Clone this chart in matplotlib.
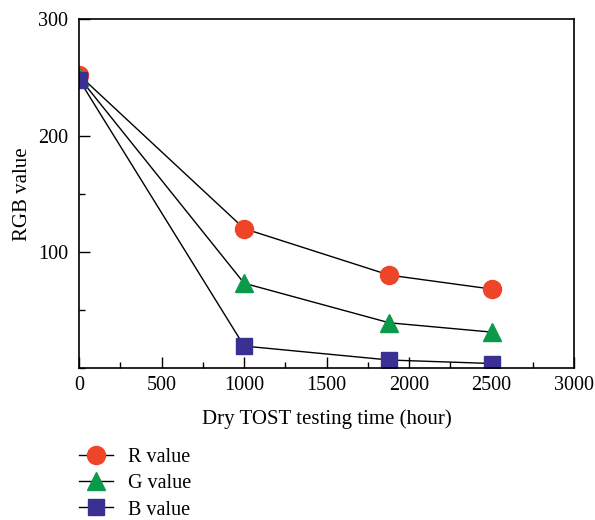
import matplotlib as mpl
mpl.use('Agg')
import matplotlib.pyplot as plt
from matplotlib.ticker import MultipleLocator

## Data
hours = [0, 1000, 1880, 2500]
r_value = [252, 120, 80, 68]
g_value = [250, 73, 39, 31]
b_value = [248, 19, 7, 4]

plt.rcParams['font.family'] = ['Liberation Serif', 'DejaVu Serif']
plt.rcParams['font.size'] = 14.5

fig = plt.figure(figsize=(5.95, 5.2), dpi=100)
ax1 = fig.add_axes([0.133, 0.292, 0.832, 0.671])

ax1.plot(hours, r_value, color='black', lw=1, marker='o', ms=13,
         mfc='#ee4427', mec='#ee4427', label='R value')
ax1.plot(hours, g_value, color='black', lw=1, marker='^', ms=13,
         mfc='#0a9a4a', mec='#0a9a4a', label='G value')
ax1.plot(hours, b_value, color='black', lw=1, marker='s', ms=12,
         mfc='#3a2f92', mec='#3a2f92', label='B value')

ax1.set_xlim(0, 3000)
ax1.set_ylim(0, 300)
ax1.xaxis.set_major_locator(MultipleLocator(500))
ax1.xaxis.set_minor_locator(MultipleLocator(250))
ax1.set_yticks([100, 200, 300])
ax1.yaxis.set_minor_locator(MultipleLocator(50))
ax1.tick_params(direction='in', which='major', length=8, width=1, labelsize=14.5)
ax1.tick_params(direction='in', which='minor', length=4, width=1)
ax1.xaxis.set_tick_params(pad=6)
ax1.yaxis.set_tick_params(pad=8)
for s in ax1.spines.values():
    s.set_linewidth(1.2)

ax1.set_xlabel('Dry TOST testing time (hour)', fontsize=15, labelpad=10)
ax1.set_ylabel('RGB value', fontsize=15, labelpad=4)

ax1.legend(loc='upper left', bbox_to_anchor=(0.133, 0.139), bbox_transform=fig.transFigure,
           frameon=False, fontsize=14.5, handlelength=1.7, handletextpad=0.75,
           labelspacing=0.36, borderpad=0, borderaxespad=0)

fig.savefig('out.png')
